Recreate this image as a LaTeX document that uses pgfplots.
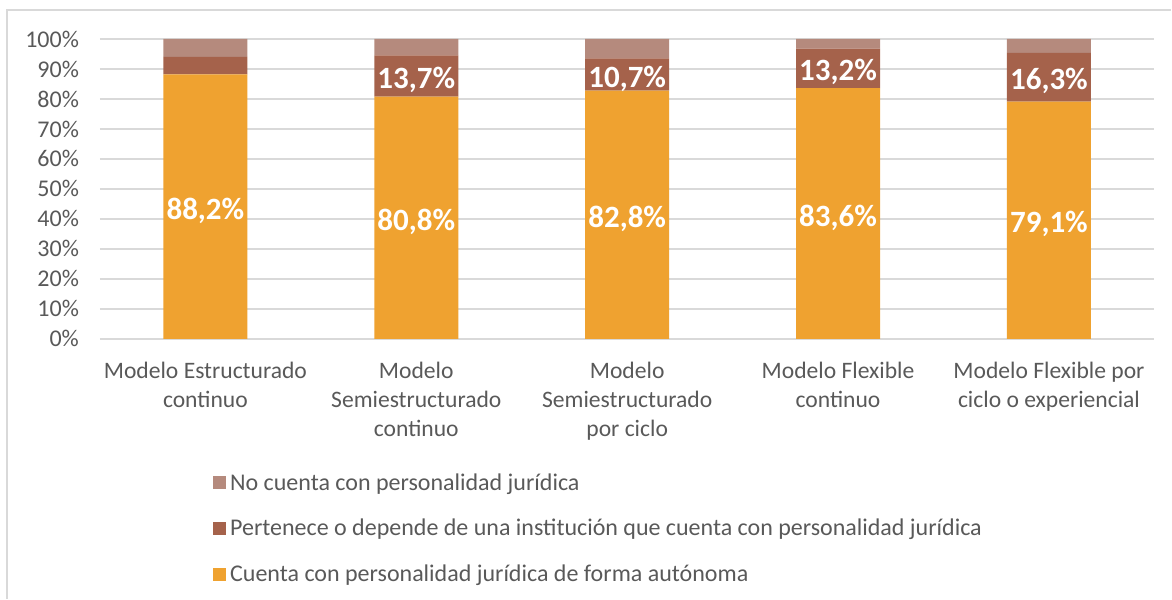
\documentclass[border=0pt]{standalone}
\usepackage{pgfplots}
\pgfplotsset{compat=1.18}
\usepackage{fontspec}
\setmainfont{Carlito}

\definecolor{cOrange}{RGB}{239,162,48}
\definecolor{cBrown}{RGB}{165,98,75}
\definecolor{cLight}{RGB}{181,138,125}
\definecolor{cGrid}{RGB}{217,217,217}
\definecolor{cText}{RGB}{89,89,89}

\begin{document}
\begin{tikzpicture}
% picture frame (1px = 0.5pt)
\path (0pt,0pt) rectangle (586pt,299.5pt);
\draw[cGrid,line width=0.6pt] (3.5pt,0pt) -- (3.5pt,294.5pt) -- (586pt,294.5pt);
\coordinate (o) at (50pt,130pt);

\begin{axis}[
    at={(o)}, anchor=south west,
    width=527.5pt, height=150pt, scale only axis,
    ybar stacked,
    bar width=42pt,
    xmin=-0.5, xmax=4.5,
    ymin=0, ymax=100,
    axis line style={draw=none},
    tick style={draw=none},
    ymajorgrids, grid style={cGrid,line width=0.8pt},
    ytick={0,10,...,100},
    yticklabel={\pgfmathprintnumber{\tick}\%},
    /pgf/number format/assume math mode=true,
    yticklabel style={font=\fontsize{12}{13}\selectfont, text=cText, xshift=-7pt},
    xtick=data,
    xticklabels={Modelo Estructurado\\continuo,
                 Modelo\\Semiestructurado\\continuo,
                 Modelo\\Semiestructurado\\por ciclo,
                 Modelo Flexible\\continuo,
                 Modelo Flexible por\\ciclo o experiencial},
    xticklabel style={font=\fontsize{11.8}{14.5}\selectfont, text=cText, align=center, yshift=-8pt},
    legend style={at={(0.107,-0.435)}, anchor=north west, draw=none, fill=none, inner sep=0pt,
        font=\fontsize{12}{14}\selectfont, text=cText,
        row sep=9pt, cells={anchor=west}},
    legend cell align=left,
    reverse legend,
    legend image code/.code={\fill[#1] (-1.5pt,-3pt) rectangle (5pt,3.5pt);},
]
\addplot[fill=cOrange, draw=none] coordinates {(0,88.2) (1,80.8) (2,82.8) (3,83.6) (4,79.1)};
\addlegendentry{Cuenta con personalidad jurídica de forma autónoma}
\addplot[fill=cBrown, draw=none] coordinates {(0,5.8) (1,13.7) (2,10.7) (3,13.2) (4,16.3)};
\addlegendentry{Pertenece o depende de una institución que cuenta con personalidad jurídica}
\addplot[fill=cLight, draw=none] coordinates {(0,6.0) (1,5.5) (2,6.5) (3,3.2) (4,4.6)};
\addlegendentry{No cuenta con personalidad jurídica}
\end{axis}

% data labels at segment centres
\begin{axis}[
    at={(o)}, anchor=south west,
    width=527.5pt, height=150pt, scale only axis,
    xmin=-0.5, xmax=4.5, ymin=0, ymax=100,
    hide axis,
    nodes near coords,
    point meta=explicit symbolic,
    every node near coord/.style={anchor=center, yshift=-2pt, text=white, font=\bfseries\fontsize{15.5}{17}\selectfont},
]
\addplot[only marks, mark=none] table[meta=label] {
x y label
0 44.1 88,2\%
1 40.4 80,8\%
2 41.4 82,8\%
3 41.8 83,6\%
4 39.55 79,1\%
1 87.65 13,7\%
2 88.15 10,7\%
3 90.2 13,2\%
4 87.25 16,3\%
};
\end{axis}
\end{tikzpicture}
\end{document}
